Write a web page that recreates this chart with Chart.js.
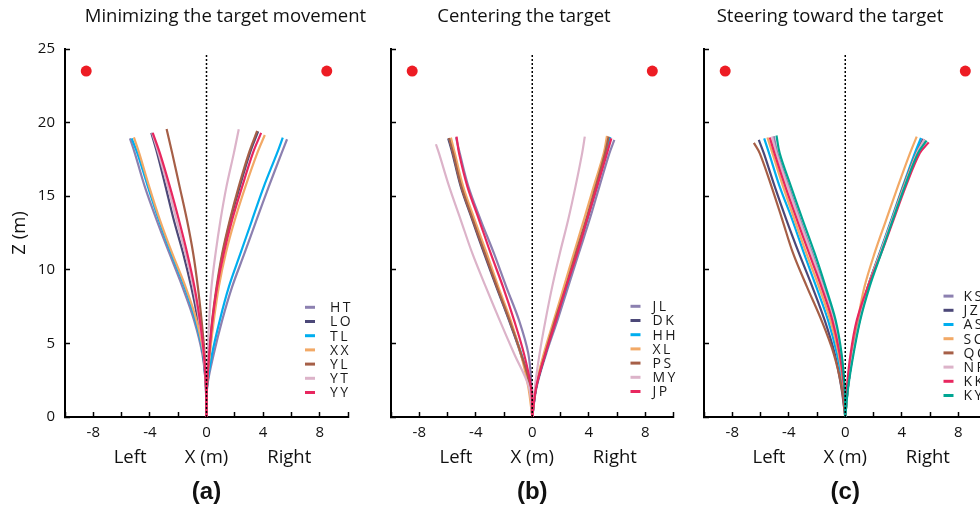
<!DOCTYPE html>
<html>
<head>
<meta charset="utf-8">
<script src="https://cdn.jsdelivr.net/npm/chart.js@4.4.1/dist/chart.umd.min.js"></script>
<style>
  html, body { margin: 0; padding: 0; background: #fff; width: 980px; height: 511px; overflow: hidden; }
  canvas { position: absolute; top: 0; }
</style>
</head>
<body>
<canvas id="panelA" width="451" height="511" style="left:0px"></canvas>
<canvas id="panelB" width="305" height="511" style="left:374px"></canvas>
<canvas id="panelC" width="319" height="511" style="left:673px"></canvas>
<script>
'use strict';

// depth levels (m) at which the trajectories were read
var zLevels = [0, 2.04, 4.31, 6.58, 8.84, 11.11, 13.38, 15.65, 17.91];

var xTickLabels = [-8, -4, 0, 4, 8];
var sideLabels = ['Left', 'Right'];
var sideLabelX = [-5.4, 5.85];
var targetX = [-8.5, 8.5];
var targetZ = [23.5, 23.5];
var centerLineZ = [0, 24.7];

var subjectColors = ['#8c80b0', '#4c4878', '#00aeef', '#f2a966', '#a65f47', '#dcb3c9', '#e8275f', '#00a693'];

// (a) Minimizing the target movement
var subjectsA = ['HT', 'LO', 'TL', 'XX', 'YL', 'YT', 'YY'];
var leftA = [
  [0, -0.03, -0.30, -0.88, -1.70, -2.62, -3.52, -4.36, -5.06],
  [0, -0.05, -0.24, -0.61, -1.08, -1.65, -2.31, -2.89, -3.48],
  [0, -0.03, -0.24, -0.78, -1.55, -2.49, -3.36, -4.14, -4.88],
  [0, -0.03, -0.21, -0.71, -1.48, -2.42, -3.29, -4.05, -4.75],
  [0, -0.03, -0.14, -0.35, -0.61, -0.94, -1.38, -1.90, -2.42],
  [0, -0.04, -0.19, -0.52, -0.94, -1.49, -2.12, -2.73, -3.39],
  [0, -0.04, -0.19, -0.47, -0.85, -1.36, -1.95, -2.59, -3.29]
];
var leftEndA = [[-5.41, 18.93], [-3.90, 19.3], [-5.29, 18.93], [-5.13, 19.0], [-2.82, 19.57], [-3.84, 19.3], [-3.80, 19.3]];
var rightA = [
  [0, 0.05, 0.52, 1.11, 1.81, 2.68, 3.53, 4.40, 5.30],
  [0, 0.03, 0.21, 0.45, 0.75, 1.15, 1.69, 2.35, 3.06],
  [0, 0.04, 0.40, 0.94, 1.58, 2.40, 3.22, 4.05, 4.98],
  [0, 0.03, 0.24, 0.52, 0.87, 1.36, 2.00, 2.75, 3.58],
  [0, 0.03, 0.19, 0.40, 0.71, 1.11, 1.65, 2.28, 2.99],
  [0, 0.02, 0.09, 0.19, 0.35, 0.64, 0.99, 1.41, 1.93],
  [0, 0.03, 0.19, 0.42, 0.75, 1.22, 1.81, 2.52, 3.27]
];
var rightEndA = [[5.69, 18.87], [3.65, 19.4], [5.39, 18.98], [4.12, 19.16], [3.58, 19.43], [2.28, 19.55], [3.86, 19.3]];

// (b) Centering the target
var subjectsB = ['JL', 'DK', 'HH', 'XL', 'PS', 'MY', 'JP'];
var leftB = [
  [0, -0.05, -0.28, -0.94, -1.84, -2.71, -3.65, -4.52, -5.13],
  [0, -0.14, -0.82, -1.65, -2.54, -3.41, -4.24, -5.06, -5.65],
  [0, -0.16, -0.78, -1.60, -2.47, -3.29, -4.16, -4.99, -5.58],
  [0, -0.28, -0.82, -1.53, -2.40, -3.22, -4.07, -4.89, -5.48],
  [0, -0.14, -0.80, -1.62, -2.50, -3.36, -4.20, -5.02, -5.60],
  [0, -0.24, -1.29, -2.31, -3.29, -4.24, -5.06, -5.88, -6.60],
  [0, -0.09, -0.59, -1.29, -2.07, -2.94, -3.76, -4.59, -5.18]
];
var leftEndB = [[-5.40, 19.0], [-5.95, 18.93], [-5.88, 18.93], [-5.76, 18.98], [-5.90, 18.95], [-6.82, 18.53], [-5.36, 19.05]];
var rightB = [
  [0, 0.31, 0.99, 1.79, 2.54, 3.29, 4.05, 4.75, 5.46],
  [0, 0.28, 0.94, 1.65, 2.40, 3.11, 3.86, 4.52, 5.18],
  [0, 0.28, 0.94, 1.67, 2.42, 3.13, 3.88, 4.56, 5.22],
  [0, 0.24, 0.82, 1.53, 2.24, 2.94, 3.65, 4.35, 5.06],
  [0, 0.28, 0.92, 1.62, 2.38, 3.08, 3.81, 4.49, 5.15],
  [0, 0.19, 0.52, 0.94, 1.41, 1.95, 2.54, 3.06, 3.53],
  [0, 0.28, 0.94, 1.69, 2.40, 3.18, 3.88, 4.59, 5.29]
];
var rightEndB = [[5.81, 18.82], [5.48, 19.0], [5.53, 19.0], [5.29, 19.1], [5.41, 19.05], [3.72, 19.05], [5.60, 18.93]];

// (c) Steering toward the target
var subjectsC = ['KS', 'JZ', 'AS', 'SC', 'QC', 'NR', 'KK', 'KY'];
var leftC = [
  [0, -0.05, -0.31, -0.78, -1.51, -2.33, -3.18, -4.00, -4.80],
  [0, -0.28, -0.75, -1.46, -2.33, -3.27, -4.16, -4.99, -5.76],
  [0, -0.16, -0.59, -1.22, -2.05, -2.92, -3.74, -4.64, -5.39],
  [0, -0.12, -0.47, -1.06, -1.86, -2.75, -3.58, -4.40, -5.15],
  [0, -0.26, -0.82, -1.69, -2.71, -3.69, -4.45, -5.22, -6.05],
  [0, -0.07, -0.33, -0.82, -1.58, -2.40, -3.25, -4.07, -4.87],
  [0, -0.09, -0.40, -0.92, -1.69, -2.56, -3.41, -4.24, -5.01],
  [0, -0.05, -0.26, -0.68, -1.39, -2.16, -3.01, -3.84, -4.64]
];
var leftEndC = [[-5.06, 19.07], [-6.12, 18.82], [-5.74, 18.93], [-5.51, 18.99], [-6.47, 18.62], [-5.18, 19.05], [-5.34, 18.99], [-4.87, 19.12]];
var rightC = [
  [0, 0.19, 0.54, 1.01, 1.62, 2.45, 3.29, 4.11, 5.00],
  [0, 0.19, 0.54, 1.01, 1.62, 2.47, 3.29, 4.14, 5.04],
  [0, 0.19, 0.54, 1.01, 1.60, 2.42, 3.25, 4.07, 4.92],
  [0, 0.19, 0.49, 0.89, 1.36, 2.07, 2.89, 3.72, 4.58],
  [0, 0.19, 0.52, 1.01, 1.60, 2.45, 3.29, 4.11, 5.04],
  [0, 0.19, 0.54, 1.03, 1.62, 2.47, 3.31, 4.16, 5.07],
  [0, 0.12, 0.38, 0.82, 1.60, 2.54, 3.41, 4.28, 5.27],
  [0, 0.21, 0.59, 1.06, 1.72, 2.54, 3.36, 4.21, 5.14]
];
var rightEndC = [[5.48, 18.9], [5.55, 18.88], [5.36, 18.96], [5.06, 19.05], [5.62, 18.85], [5.60, 18.86], [5.91, 18.66], [5.76, 18.78]];

var FONT = "'Open Sans', sans-serif";

// panel heading, legend in the lower right corner, Left / Right under the x axis
var panelExtras = {
  id: 'panelExtras',
  afterDraw: function (chart, args, opts) {
    var ctx = chart.ctx;
    var area = chart.chartArea;
    var xs = chart.scales.x;
    var n = opts.names.length;
    ctx.save();
    ctx.fillStyle = '#111';
    ctx.font = '18.5px ' + FONT;
    ctx.textAlign = 'center';
    ctx.textBaseline = 'middle';
    ctx.fillText(opts.heading, area.left + opts.headingOffset, 16.5);

    opts.names.forEach(function (name, i) {
      var y = area.bottom - opts.legendBottom - (n - 1 - i) * 14.2;
      ctx.beginPath();
      ctx.strokeStyle = subjectColors[i];
      ctx.lineWidth = 3;
      ctx.moveTo(area.right - 43, y);
      ctx.lineTo(area.right - 33, y);
      ctx.stroke();
      ctx.fillStyle = '#1a1a1a';
      ctx.font = '14px ' + FONT;
      ctx.letterSpacing = '2.5px';
      ctx.textBaseline = 'middle';
      ctx.textAlign = 'left';
      ctx.fillText(name, area.right - opts.textOffset, y + 1);
    });
    ctx.letterSpacing = '0px';
    ctx.font = '18.5px ' + FONT;
    ctx.textAlign = 'center';
    ctx.fillStyle = '#111';
    sideLabels.forEach(function (txt, k) {
      ctx.fillText(txt, xs.getPixelForValue(sideLabelX[k]), area.bottom + 41);
    });
    ctx.restore();
  }
};

function buildDatasets(names, left, leftEnd, right, rightEnd) {
  var curves = [];
  names.forEach(function (name, i) {
    [[left, leftEnd], [right, rightEnd]].forEach(function (side) {
      var pts = zLevels.map(function (z, k) { return {x: side[0][i][k], y: z}; });
      pts.push({x: side[1][i][0], y: side[1][i][1]});
      curves.push({
        label: name,
        data: pts,
        borderColor: subjectColors[i],
        borderWidth: 2.2,
        pointRadius: 0,
        tension: 0.35,
        fill: false
      });
    });
  });
  // first dataset is painted last, so later subjects sit on top
  curves.reverse();
  var targets = {
    label: 'target',
    data: targetX.map(function (x, k) { return {x: x, y: targetZ[k]}; }),
    showLine: false,
    pointRadius: 5.5,
    pointBackgroundColor: '#ed1c24',
    pointBorderWidth: 0
  };
  var center = {
    label: 'center',
    data: centerLineZ.map(function (z) { return {x: 0, y: z}; }),
    borderColor: '#000',
    borderWidth: 1.5,
    borderDash: [2, 2],
    pointRadius: 0,
    tension: 0
  };
  return [targets, center].concat(curves);
}

function makePanel(id, p) {
  return new Chart(document.getElementById(id), {
    type: 'line',
    data: { datasets: buildDatasets(p.names, p.left, p.leftEnd, p.right, p.rightEnd) },
    plugins: [panelExtras],
    options: {
      responsive: false,
      animation: false,
      events: [],
      layout: { padding: { top: 49, left: 0, right: p.padRight, bottom: 4 } },
      plugins: {
        legend: { display: false },
        tooltip: { enabled: false },
        title: { display: false },
        subtitle: {
          display: true,
          position: 'bottom',
          fullSize: false,
          text: p.tag,
          color: '#111',
          font: { family: 'Liberation Sans, Arial, sans-serif', size: 24, weight: 'bold' },
          padding: 0
        },
        panelExtras: {
          heading: p.title, headingOffset: p.headingOffset, names: p.names,
          legendBottom: p.legendBottom, textOffset: p.textOffset
        }
      },
      scales: {
        x: {
          type: 'linear',
          min: -10,
          max: 10,
          afterFit: function (scale) {
            scale.height = 61.2;
            scale.paddingLeft = 0;
            scale.paddingRight = 0;
          },
          ticks: {
            stepSize: 2,
            padding: 12,
            color: '#111',
            font: { family: FONT, size: 15 },
            callback: function (v) { return xTickLabels.indexOf(v) >= 0 ? String(v) : ''; }
          },
          grid: { drawOnChartArea: false, tickLength: -5, tickColor: '#000', tickWidth: 1.5 },
          border: { color: '#000', width: 2 },
          title: {
            display: true,
            text: 'X (m)',
            color: '#111',
            font: { family: FONT, size: 18.5 },
            padding: { top: 0, bottom: 9 }
          }
        },
        y: {
          type: 'linear',
          min: 0,
          max: 25,
          afterFit: function (scale) { scale.width = p.yWidth; },
          ticks: {
            display: p.showZ,
            stepSize: 5,
            padding: 15,
            color: '#111',
            font: { family: FONT, size: 15 }
          },
          grid: { drawOnChartArea: false, tickLength: -5, tickColor: '#000', tickWidth: 1.5 },
          border: { color: '#000', width: 2 },
          title: {
            display: p.showZ,
            text: 'Z (m)',
            color: '#111',
            font: { family: FONT, size: 18.5 },
            padding: { top: 9, bottom: 9 }
          }
        }
      }
    }
  });
}

makePanel('panelA', {
  title: 'Minimizing the target movement', headingOffset: 160.5, tag: '(a)', names: subjectsA,
  left: leftA, leftEnd: leftEndA, right: rightA, rightEnd: rightEndA,
  showZ: true, yWidth: 65, padRight: 103, legendBottom: 24.5, textOffset: 18
});
makePanel('panelB', {
  title: 'Centering the target', headingOffset: 133, tag: '(b)', names: subjectsB,
  left: leftB, leftEnd: leftEndB, right: rightB, rightEnd: rightEndB,
  showZ: false, yWidth: 17, padRight: 1, legendBottom: 25.5, textOffset: 21
});
makePanel('panelC', {
  title: 'Steering toward the target', headingOffset: 126, tag: '(c)', names: subjectsC,
  left: leftC, leftEnd: leftEndC, right: rightC, rightEnd: rightEndC,
  showZ: false, yWidth: 31, padRight: 1, legendBottom: 21.5, textOffset: 23
});
</script>
</body>
</html>
